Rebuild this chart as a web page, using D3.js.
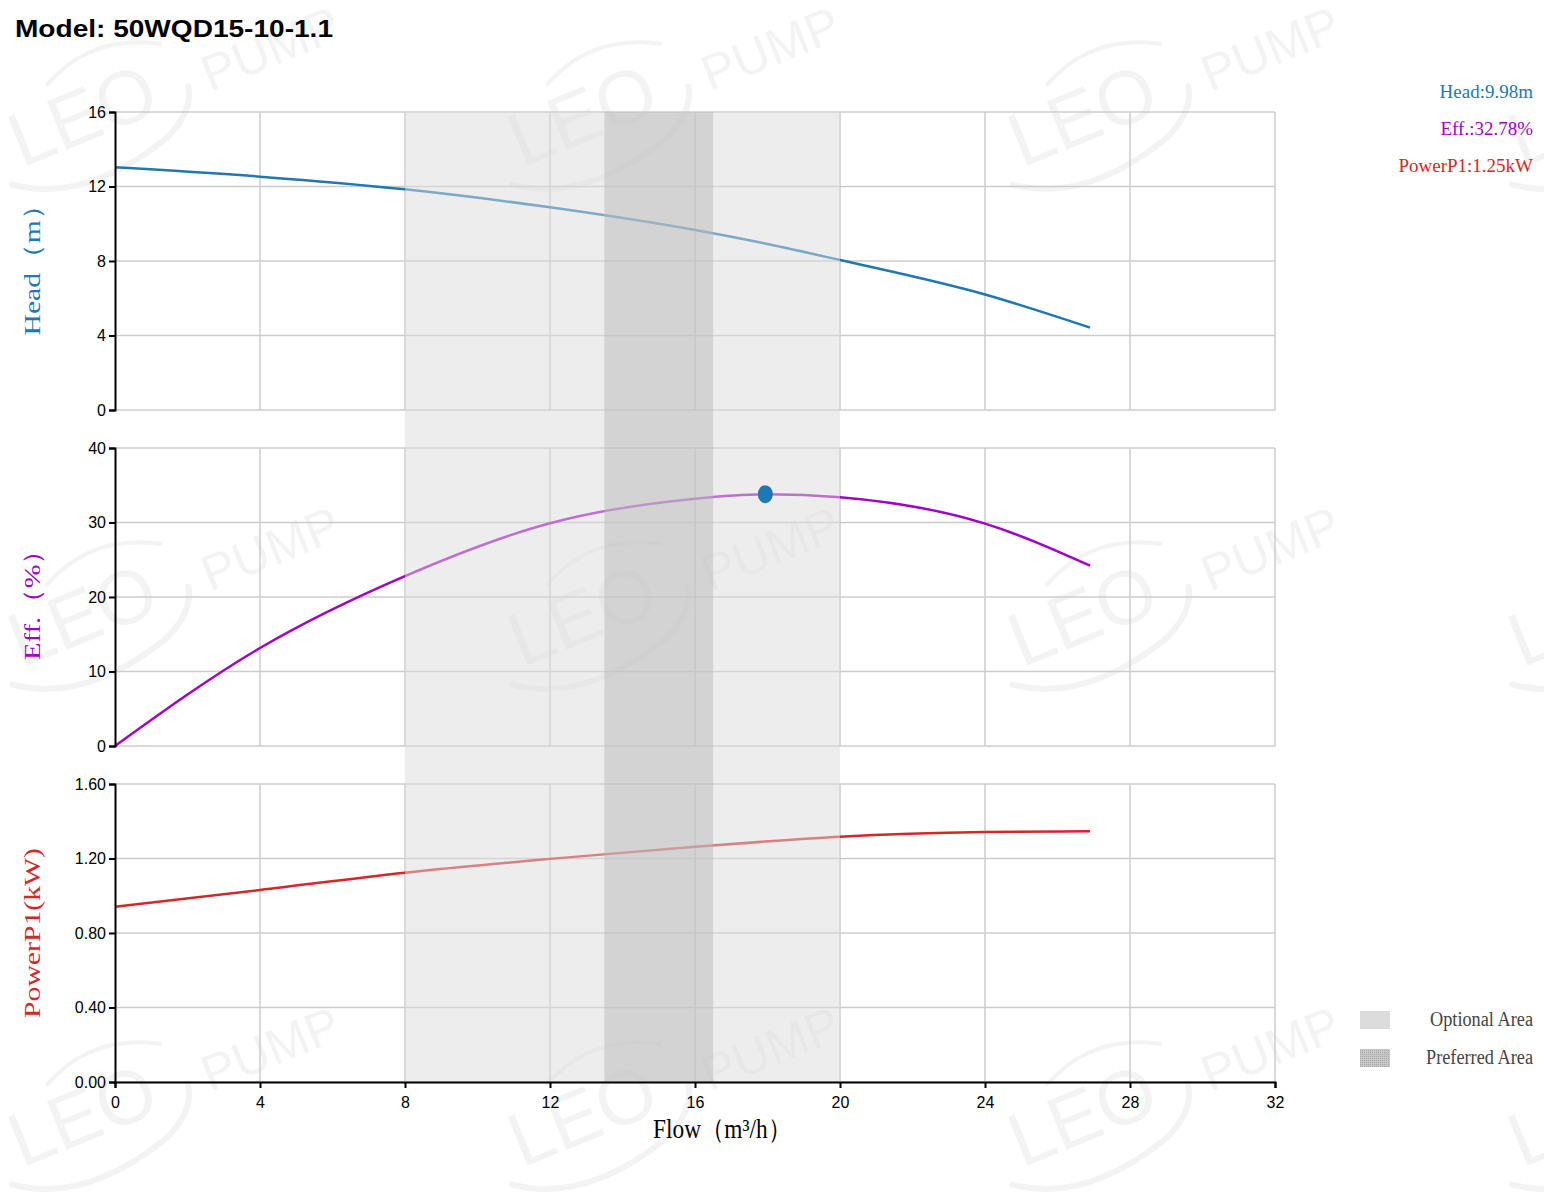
<!DOCTYPE html>
<html>
<head>
<meta charset="utf-8">
<script src="https://cdn.jsdelivr.net/npm/d3@7"></script>
<style>
  body { margin: 0; background: #fff; }
  svg { display: block; }
  .tick text { font-family: "Liberation Sans", Arial, sans-serif; font-size: 16px; fill: #000; }
</style>
</head>
<body>
<svg id="chart" width="1544" height="1195"></svg>
<script>
// curve points
var flow  = [0, 4, 8, 12, 16, 18, 20, 24, 26.9];
var head  = [13.03, 12.53, 11.85, 10.88, 9.66, 8.91, 8.05, 6.2, 4.42];
var eff   = [0, 13.15, 22.8, 29.9, 33.2, 33.8, 33.4, 29.85, 24.2];
var power = [0.941, 1.031, 1.124, 1.198, 1.263, 1.292, 1.317, 1.342, 1.346];

// duty point
var dutyFlow = [17.94];
var dutyEff = [33.8];

// areas (flow ranges)
var optionalArea = [8, 20];
var preferredArea = [13.5, 16.5];

var flowTicks  = [0, 4, 8, 12, 16, 20, 24, 28, 32];
var headTicks  = [0, 4, 8, 12, 16];
var effTicks   = [0, 10, 20, 30, 40];
var powerTicks = [0, 0.4, 0.8, 1.2, 1.6];

var readouts = ["Head:9.98m", "Eff.:32.78%", "PowerP1:1.25kW"];
var areaNames = ["Optional Area", "Preferred Area"];

var blue = "#1f77b4", purple = "#a000c8", red = "#d62728";

var svg = d3.select("#chart");

var x = d3.scaleLinear().domain([0, 32]).range([115, 1275]);

var panels = [
  {values: head,  ticks: headTicks,  top: 112, bottom: 410,  color: blue,   fmt: d3.format("d"),   label: "Head（m）",   len: 145, mid: 263},
  {values: eff,   ticks: effTicks,   top: 448, bottom: 746,  color: purple, fmt: d3.format("d"),   label: "Eff.（%）",   len: 124, mid: 598},
  {values: power, ticks: powerTicks, top: 784, bottom: 1082, color: red,    fmt: d3.format(".2f"), label: "PowerP1(kW)", len: 170, mid: 933}
];
panels.forEach(function(p){
  p.y = d3.scaleLinear().domain([p.ticks[0], p.ticks[p.ticks.length-1]]).range([p.bottom, p.top]);
});

// watermark tiles (faint, behind everything)
var wm = svg.append("g").attr("pointer-events", "none");
[90, 590, 1090, 1590].forEach(function(cx){
  [110, 610, 1110].forEach(function(cy){
    var t = wm.append("g").attr("transform", "translate(" + cx + "," + cy + ") rotate(-22)")
      .attr("fill", "#000").attr("opacity", 0.045)
      .style("font-family", "Liberation Sans, Arial, sans-serif");
    t.append("text").attr("x", -85).attr("y", 28).style("font-size", "76px").text("LEO");
    t.append("text").attr("x", 118).attr("y", 28).style("font-size", "50px").text("PUMP");
    t.append("path")
      .attr("d", "M-100,40 Q-40,85 60,55 Q95,40 100,15")
      .attr("fill", "none").attr("stroke", "#000").attr("stroke-width", 6)
      .attr("stroke-linecap", "round");
    t.append("path")
      .attr("d", "M-30,-40 Q30,-70 90,-35")
      .attr("fill", "none").attr("stroke", "#000").attr("stroke-width", 4)
      .attr("stroke-linecap", "round");
  });
});

// title
svg.append("text")
  .attr("x", 15).attr("y", 37)
  .attr("textLength", 318).attr("lengthAdjust", "spacingAndGlyphs")
  .style("font-family", "Liberation Sans, Arial, sans-serif")
  .style("font-size", "24px").style("font-weight", "bold")
  .text("Model: 50WQD15-10-1.1");

// grid + curves
panels.forEach(function(p){
  var g = svg.append("g");
  g.selectAll("line.h").data(p.ticks).enter().append("line")
    .attr("x1", x(0)).attr("x2", x(32))
    .attr("y1", function(d){ return p.y(d); }).attr("y2", function(d){ return p.y(d); })
    .attr("stroke", "#cccccc").attr("stroke-width", 1.5);
  g.selectAll("line.v").data(flowTicks.slice(1)).enter().append("line")
    .attr("x1", function(d){ return x(d); }).attr("x2", function(d){ return x(d); })
    .attr("y1", p.top).attr("y2", p.bottom)
    .attr("stroke", "#cccccc").attr("stroke-width", 1.5);

  var line = d3.line()
    .x(function(d, i){ return x(flow[i]); })
    .y(function(d){ return p.y(d); })
    .curve(d3.curveMonotoneX);
  g.append("path").datum(p.values)
    .attr("d", line)
    .attr("fill", "none")
    .attr("stroke", p.color)
    .attr("stroke-width", 2.5);
});

// shaded areas on top of curves
var y0 = panels[0].top, y1 = panels[2].bottom;
svg.append("rect")
  .attr("x", x(optionalArea[0])).attr("width", x(optionalArea[1]) - x(optionalArea[0]))
  .attr("y", y0).attr("height", y1 - y0)
  .attr("fill", "#dcdcdc").attr("opacity", 0.5);
svg.append("rect")
  .attr("x", x(preferredArea[0])).attr("width", x(preferredArea[1]) - x(preferredArea[0]))
  .attr("y", y0).attr("height", y1 - y0)
  .attr("fill", "#bababa").attr("opacity", 0.5);

// axes
panels.forEach(function(p){
  var ax = svg.append("g")
    .attr("transform", "translate(" + x(0) + ",0)")
    .call(d3.axisLeft(p.y).tickValues(p.ticks).tickFormat(p.fmt).tickSize(6).tickPadding(3));
  ax.select(".domain").attr("stroke", "#000").attr("stroke-width", 2);
  ax.selectAll(".tick line").attr("stroke", "#000").attr("stroke-width", 2);

  svg.append("text")
    .attr("transform", "translate(40," + p.mid + ") rotate(-90)")
    .attr("text-anchor", "middle")
    .attr("textLength", p.len).attr("lengthAdjust", "spacingAndGlyphs")
    .style("font-family", "Liberation Serif, Times New Roman, serif")
    .style("font-size", "24px")
    .attr("fill", p.color)
    .text(p.label);
});

var xa = svg.append("g")
  .attr("transform", "translate(0," + panels[2].bottom + ")")
  .call(d3.axisBottom(x).tickValues(flowTicks).tickFormat(d3.format("d")).tickSize(6).tickPadding(9));
xa.select(".domain").attr("stroke", "#000").attr("stroke-width", 2);
xa.selectAll(".tick line").attr("stroke", "#000").attr("stroke-width", 2);

svg.append("text")
  .attr("x", 653).attr("y", 1138)
  .attr("textLength", 138).attr("lengthAdjust", "spacingAndGlyphs")
  .style("font-family", "Liberation Serif, Times New Roman, serif")
  .style("font-size", "27px")
  .text("Flow（m³/h）");

// duty point
svg.selectAll("ellipse.duty").data(dutyFlow).enter().append("ellipse")
  .attr("cx", function(d){ return x(d); })
  .attr("cy", function(d, i){ return panels[1].y(dutyEff[i]); })
  .attr("rx", 7.5).attr("ry", 9)
  .attr("fill", blue);

// readouts top right
svg.selectAll("text.readout").data(readouts).enter().append("text")
  .attr("x", 1533)
  .attr("y", function(d, i){ return 98 + i * 37; })
  .attr("text-anchor", "end")
  .style("font-family", "Liberation Serif, Times New Roman, serif")
  .style("font-size", "19px")
  .attr("fill", function(d, i){ return [blue, purple, red][i]; })
  .text(function(d){ return d; });

// area legend
var defs = svg.append("defs");
var pat = defs.append("pattern").attr("id", "dots")
  .attr("width", 2).attr("height", 2).attr("patternUnits", "userSpaceOnUse");
pat.append("rect").attr("width", 2).attr("height", 2).attr("fill", "#c8c8c8");
pat.append("rect").attr("width", 1).attr("height", 1).attr("fill", "#a8a8a8");

svg.selectAll("rect.leg").data(areaNames).enter().append("rect")
  .attr("x", 1360).attr("y", function(d, i){ return 1011 + i * 38; })
  .attr("width", 30).attr("height", 18)
  .attr("fill", function(d, i){ return i == 0 ? "#dcdcdc" : "url(#dots)"; });
svg.selectAll("text.leg").data(areaNames).enter().append("text")
  .attr("x", 1533).attr("y", function(d, i){ return 1026 + i * 38; })
  .attr("text-anchor", "end")
  .attr("textLength", function(d, i){ return i == 0 ? 103 : 107; })
  .attr("lengthAdjust", "spacingAndGlyphs")
  .style("font-family", "Liberation Serif, Times New Roman, serif")
  .style("font-size", "20px")
  .attr("fill", "#444")
  .text(function(d){ return d; });
</script>
</body>
</html>
